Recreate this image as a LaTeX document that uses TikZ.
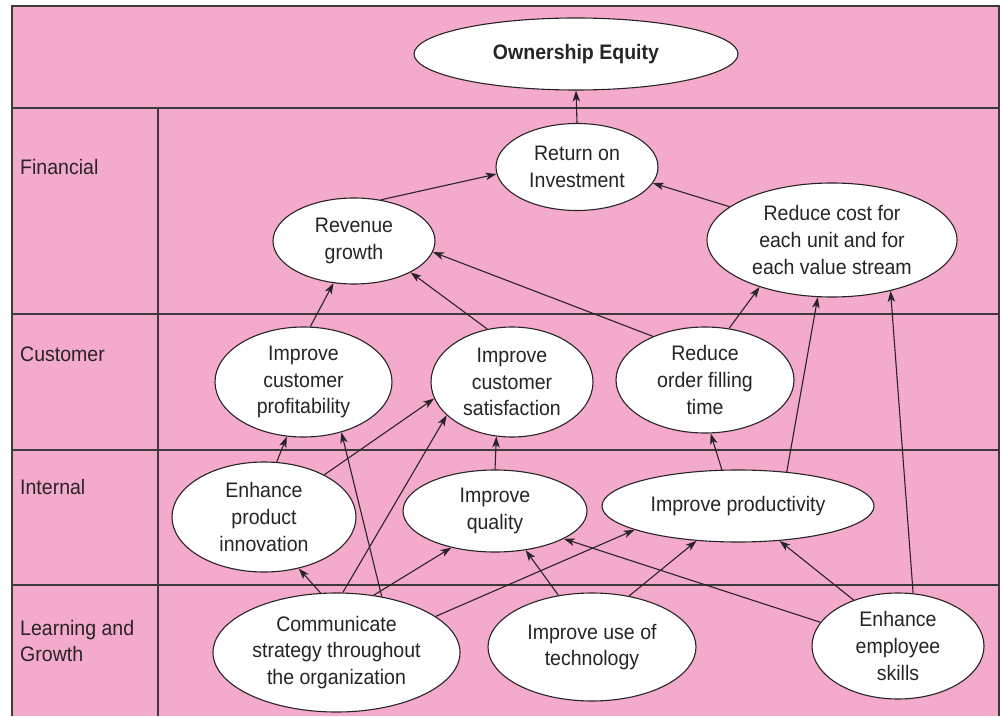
\documentclass[tikz,border=0pt]{standalone}
\usepackage{fontspec}
\setmainfont{Liberation Sans}[FakeStretch=0.93]
\usetikzlibrary{shapes.geometric,arrows.meta}
\definecolor{bandpink}{RGB}{243,170,203}
\definecolor{ink}{RGB}{40,36,38}
\tikzset{
  goal/.style={ellipse, draw=ink, line width=1.1pt, fill=white, inner sep=0pt,
    text=ink, align=center, font=\fontsize{21}{26.7}\selectfont},
  link/.style={draw=ink, line width=1.1pt,
    -{Stealth[length=11pt,width=7.5pt,inset=3pt]}},
  grid/.style={draw=ink!90, line width=1.1pt},
  rowlabel/.style={anchor=west, align=left, inner sep=0pt, text=ink,
    font=\fontsize{21}{26.7}\selectfont},
}
\begin{document}
\begin{tikzpicture}[x=1pt,y=1pt]
\useasboundingbox (0,0) rectangle (1003,716);
% band background and table rules
\fill[bandpink] (12,0) rectangle (999,710);
\draw[grid] (12,0) -- (12,710) -- (999,710) -- (999,0);
\foreach \yy in {608,402,266,131} \draw[grid] (12,\yy) -- (999,\yy);
\draw[grid] (158,608) -- (158,0);

% perspective labels
\node[rowlabel] (lfin) at (20,549) {Financial};
\node[rowlabel] (lcus) at (20,362) {Customer};
\node[rowlabel] (lint) at (20,229) {Internal};
\node[rowlabel] (llrn) at (20,75) {Learning and\\Growth};

% objectives
\node[goal, minimum width=324, minimum height=72, font=\fontsize{21}{26.7}\selectfont\bfseries] (own) at (576,662) {Ownership Equity};
\node[goal, minimum width=162, minimum height=87] (roi) at (577,549) {Return on\\Investment};
\node[goal, minimum width=162, minimum height=86] (rev) at (354,475) {Revenue\\growth};
\node[goal, minimum width=250, minimum height=114] (cost) at (832,476) {Reduce cost for\\each unit and for\\each value stream};
\node[goal, minimum width=177, minimum height=110] (prof) at (303.5,334) {Improve\\customer\\profitability};
\node[goal, minimum width=162, minimum height=110] (sat) at (512,334) {Improve\\customer\\satisfaction};
\node[goal, minimum width=178, minimum height=106] (ord) at (705,336) {Reduce\\order filling\\time};
\node[goal, minimum width=184, minimum height=110] (inno) at (264,199) {Enhance\\product\\innovation};
\node[goal, minimum width=184, minimum height=82] (qual) at (495,205) {Improve\\quality};
\node[goal, minimum width=272, minimum height=72] (prod) at (738,210) {Improve productivity};
\node[goal, minimum width=247, minimum height=119] (comm) at (336.5,63.5) {Communicate\\strategy throughout\\the organization};
\node[goal, minimum width=208, minimum height=108] (tech) at (592,69) {Improve use of\\technology};
\node[goal, minimum width=172, minimum height=106] (skill) at (898,70) {Enhance\\employee\\skills};

% cause-and-effect links
\draw[link] (roi.north) -- (own.south);
\draw[link] (rev.57.6) -- (roi.185.6);
\draw[link] (cost.162.6) -- (roi.348.4);
\draw[link] (prof.83.3) -- (rev.244);
\draw[link] (sat.115.7) -- (rev.331.2);
\draw[link] (ord.140.7) -- (rev.352.3);
\draw[link] (ord.65.2) -- (cost.213);
\draw[link] (inno.77.7) -- (prof.253.3);
\draw[link] (inno.35.2) -- (sat.192.8);
\draw[link] (qual.north) -- (sat.254);
\draw[link] (prod.114) -- (ord.276.2);
\draw[link] (prod.35.9) -- (cost.256.4);
\draw[link] (skill.74.2) -- (cost.319);
\draw[link] (comm.105.5) -- (inno.304.2);
\draw[link] (comm.84.7) -- (sat.207.9);
\draw[link] (comm.51) -- (prof.307);
\draw[link] (comm.57.9) -- (qual.220.4);
\draw[link] (comm.20.1) -- (prod.193);
\draw[link] (tech.123.9) -- (qual.308);
\draw[link] (tech.54.8) -- (prod.220.7);
\draw[link] (skill.163.6) -- (qual.338.1);
\draw[link] (skill.134.4) -- (prod.320);
\end{tikzpicture}
\end{document}
